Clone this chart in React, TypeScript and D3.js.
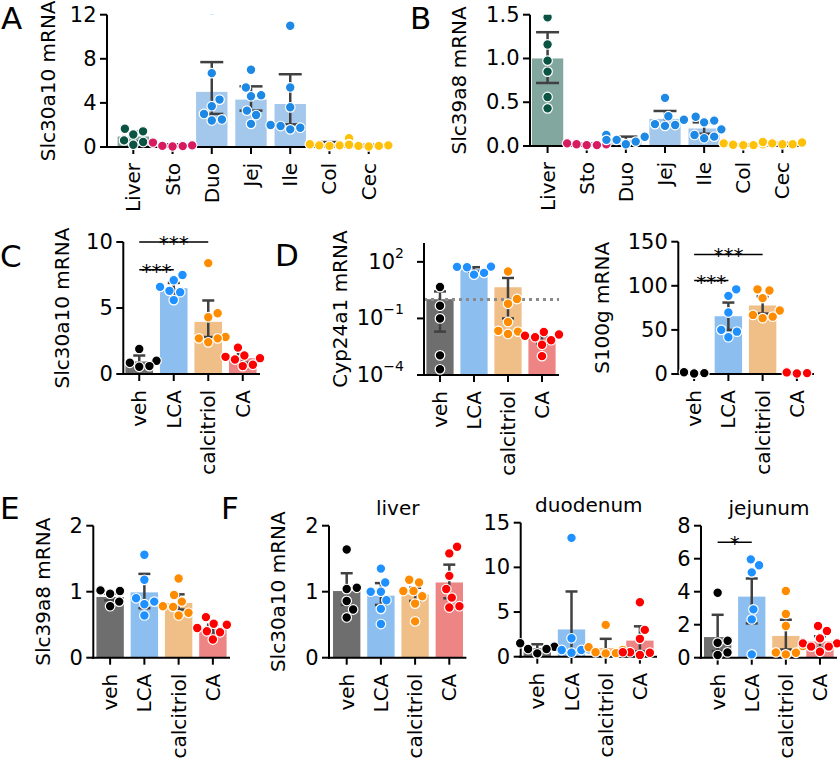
import React from "react";
import * as d3 from "d3";

// ---------- categories ----------
const tissues = ["Liver", "Sto", "Duo", "Jej", "Ile", "Col", "Cec"];
const treatments = ["veh", "LCA", "calcitriol", "CA"];

const tissueColors = ["#0b5444", "#d81b60", "#1e88e5", "#1e88e5", "#1e88e5", "#ffc107", "#ffc107"];
const tissueBarColors = ["#82a79e", "#eea3bd", "#a3c8ec", "#a3c8ec", "#a3c8ec", "#fde49a", "#fde49a"];
const treatColors = ["#000000", "#1e90ff", "#ff8c00", "#ff0000"];
const treatBarColors = ["#6e6e6e", "#8cbff0", "#f0bf88", "#ee8585"];

// ---------- A: Slc30a10 by tissue ----------
const aMeans = [0.95, 0.15, 5.0, 4.3, 3.9, 0.25, 0.12];
const aLo = [0.5, 0.05, 3.0, 3.3, 2.05, 0.12, 0.07];
const aHi = [1.4, 0.25, 7.7, 5.5, 6.6, 0.45, 0.2];
const aPts = [
  [1.66, 1.42, 1.14, 0.6, 0.45, 0.21],
  [0.4, 0.15, 0.1, 0.08, 0.05],
  [12.4, 6.7, 4.3, 3.7, 3.0, 2.5, 2.4],
  [7.0, 5.4, 4.7, 4.6, 3.3, 2.9, 2.1],
  [11.0, 5.4, 3.6, 2.0, 1.9, 1.75, 1.6],
  [0.8, 0.25, 0.25, 0.15, 0.15, 0.1],
  [0.2, 0.15, 0.1, 0.1, 0.05],
];
const aTicks = [0, 4, 8, 12];

// ---------- B: Slc39a8 by tissue ----------
const bMeans = [1.0, 0.02, 0.07, 0.31, 0.2, 0.015, 0.025];
const bLo = [0.72, 0.01, 0.04, 0.24, 0.14, 0.01, 0.02];
const bHi = [1.3, 0.03, 0.107, 0.4, 0.27, 0.02, 0.035];
const bPts = [
  [1.47, 1.16, 0.975, 0.85, 0.56, 0.43],
  [0.03, 0.02, 0.02, 0.01, 0.01],
  [0.125, 0.105, 0.07, 0.07, 0.05, 0.02],
  [0.55, 0.34, 0.3, 0.25, 0.24, 0.23],
  [0.335, 0.29, 0.27, 0.19, 0.126, 0.107, 0.088],
  [0.03, 0.02, 0.015, 0.01, 0.01],
  [0.045, 0.04, 0.03, 0.02, 0.02],
];
const bTicks = [0, 0.5, 1.0, 1.5];

// ---------- C: Slc30a10 treatments ----------
const cMeans = [0.95, 6.5, 3.95, 1.2];
const cLo = [0.65, 6.1, 2.8, 0.85];
const cHi = [1.4, 6.9, 5.57, 1.5];
const cPts = [
  [1.9, 1.0, 0.85, 0.6, 0.55],
  [7.5, 7.1, 6.6, 6.3, 6.2, 5.6],
  [8.4, 4.6, 4.3, 2.8, 2.7, 2.7, 2.4],
  [2.0, 1.4, 1.3, 1.2, 1.1, 0.7, 0.6],
];
const cTicks = [0, 5, 10];

// ---------- D: Cyp24a1 (log) ----------
const dMeans = [1.05, 42, 4.5, 0.0096];
const dLo = [0.02, 30, 0.1, 0.0045];
const dHi = [2.7, 52, 14, 0.0115];
const dPts = [
  [4.6, 0.47, 0.1, 0.0011, 0.0002],
  [56, 54, 52, 26, 21],
  [31, 1.07, 0.6, 0.065, 0.022, 0.02, 0.015],
  [0.019, 0.014, 0.012, 0.01, 0.007, 0.004, 0.001],
];
const dTicks = [1e-4, 1e-1, 1e2];
const dRef = 1;

// ---------- D: S100g ----------
const sMeans = [1.0, 65.5, 77.7, 1.0];
const sLo = [0.5, 50, 68.5, 0.6];
const sHi = [1.5, 81, 88, 1.4];
const sPts = [
  [1.0, 0.5, 2.0],
  [96, 88.6, 69.7, 50, 48, 41.7],
  [96, 94.6, 86, 72, 67, 65, 63.3],
  [1.0, 0.6, 1.8],
];
const sTicks = [0, 50, 100, 150];

// ---------- E: Slc39a8 treatments ----------
const eMeans = [0.92, 0.99, 0.83, 0.44];
const eLo = [0.87, 0.75, 0.73, 0.38];
const eHi = [0.97, 1.27, 0.96, 0.5];
const ePts = [
  [1.02, 1.01, 0.97, 0.85, 0.78],
  [1.56, 1.18, 0.9, 0.85, 0.81, 0.64],
  [1.2, 0.95, 0.85, 0.78, 0.77, 0.68, 0.64],
  [0.615, 0.515, 0.5, 0.45, 0.4, 0.385, 0.275],
];
const eTicks = [0, 1, 2];

// ---------- F: Slc30a10 liver / duodenum / jejunum ----------
const flMeans = [1.01, 0.94, 0.96, 1.14];
const flLo = [0.8, 0.8, 0.86, 0.9];
const flHi = [1.28, 1.13, 1.06, 1.41];
const flPts = [
  [1.64, 1.06, 1.04, 0.86, 0.73, 0.61],
  [1.35, 1.14, 1.0, 1.0, 0.87, 0.74, 0.51],
  [1.18, 1.14, 1.01, 1.01, 0.93, 0.82, 0.55],
  [1.68, 1.58, 1.24, 1.04, 0.91, 0.78, 0.76],
];
const flTicks = [0, 1, 2];

const fdMeans = [0.95, 3.05, 0.98, 1.8];
const fdLo = [0.5, 0.6, 0.4, 0.6];
const fdHi = [1.39, 7.3, 2.0, 3.4];
const fdPts = [
  [1.5, 1.12, 0.86, 0.86, 0.37],
  [13.3, 2.06, 0.82, 0.75, 0.75, 0.45],
  [3.56, 1.05, 0.75, 0.5, 0.4, 0.37],
  [6.1, 3.0, 2.0, 0.5, 0.5, 0.45, 0.2],
];
const fdTicks = [0, 5, 10, 15];

const fjMeans = [1.25, 3.7, 1.32, 0.98];
const fjLo = [0.4, 2.08, 0.5, 0.6];
const fjHi = [2.6, 4.8, 2.3, 1.3];
const fjPts = [
  [3.94, 1.03, 0.91, 0.32, 0.16],
  [5.96, 5.6, 5.17, 2.93, 2.32, 0.2],
  [4.04, 2.65, 1.92, 0.7, 0.32, 0.3, 0.2],
  [1.92, 1.62, 1.17, 0.87, 0.87, 0.67, 0.67, 0.36],
];
const fjTicks = [0, 2, 4, 6, 8];

// ---------- significance ----------
type Bracket = { a: number; b: number; h: number; label: string };
const cBrackets: Bracket[] = [
  { a: 0, b: 1, h: 7.9, label: "***" },
  { a: 0, b: 2, h: 10, label: "***" },
];
const sBrackets: Bracket[] = [
  { a: 0, b: 1, h: 106, label: "***" },
  { a: 0, b: 2, h: 135.5, label: "***" },
];
const fjBrackets: Bracket[] = [{ a: 0, b: 1, h: 7, label: "*" }];

const FONT = "DejaVu Sans, sans-serif";
const FS = 20;
const FS_Y = 21;

function swarm(ys: number[], d: number, limit: number): number[] {
  const idx = ys.map((_, i) => i).sort((a, b) => ys[b] - ys[a]);
  const placed: { x: number; y: number }[] = [];
  const out = new Array(ys.length).fill(0);
  for (const i of idx) {
    const y = ys[i];
    const cands = [0];
    for (const p of placed) {
      const dy = Math.abs(p.y - y);
      if (dy < d) {
        const dx = Math.sqrt(d * d - dy * dy);
        cands.push(p.x + dx, p.x - dx);
      }
    }
    cands.sort((a, b) => Math.abs(a) - Math.abs(b));
    let x = 0;
    for (const c of cands) {
      if (placed.every((p) => (p.x - c) ** 2 + (p.y - y) ** 2 >= d * d - 1e-3)) {
        x = c;
        break;
      }
    }
    placed.push({ x, y });
    out[i] = Math.max(-limit, Math.min(limit, x));
  }
  return out;
}

type PanelProps = {
  id: string;
  cats: string[];
  means: number[];
  lo: number[];
  hi: number[];
  pts: number[][];
  colors: string[];
  barColors: string[];
  axisX: number;
  band: [number, number];
  yTop: number;
  yBottom: number;
  domain: [number, number];
  log?: boolean;
  ticks: number[];
  fmt: (v: number) => React.ReactNode;
  tickGap?: number;
  ylabel?: string;
  ylabelX?: number;
  title?: string;
  brackets?: Bracket[];
  refLine?: number;
  capHalf: number;
};

function Panel(p: PanelProps) {
  const x = d3.scaleBand<string>().domain(p.cats).range(p.band).padding(0);
  const step = x.step();
  const y = p.log
    ? d3.scaleLog().domain(p.domain).range([p.yBottom, p.yTop])
    : d3.scaleLinear().domain(p.domain).range([p.yBottom, p.yTop]);
  const cx = (c: string) => (x(c) as number) + step / 2;
  const left = Math.min(p.axisX, p.band[0]);
  const tickGap = p.tickGap ?? 10.5;
  const r = 4.8;
  return (
    <g fontFamily={FONT}>
      <defs>
        <clipPath id={`clip-${p.id}`}>
          <rect x={left - 60} y={p.yTop} width={p.band[1] - left + 120} height={p.yBottom - p.yTop + 20} />
        </clipPath>
      </defs>
      {p.cats.map((c, i) => {
        const yv = y(p.means[i]);
        return (
          <rect
            key={`b${i}`}
            x={cx(c) - step * 0.4}
            width={step * 0.8}
            y={yv}
            height={p.yBottom - yv}
            fill={p.barColors[i]}
          />
        );
      })}
      {p.refLine !== undefined && (
        <line
          x1={p.axisX}
          x2={p.band[1]}
          y1={y(p.refLine)}
          y2={y(p.refLine)}
          stroke="#8a8a8a"
          strokeWidth={3}
          strokeDasharray="3 4"
        />
      )}
      {p.cats.map((c, i) => {
        const y1 = y(p.lo[i]);
        const y2 = y(p.hi[i]);
        const xc = cx(c);
        return (
          <g key={`e${i}`} stroke="#404040" strokeWidth={2.5}>
            <line x1={xc} x2={xc} y1={y1} y2={y2} />
            <line x1={xc - p.capHalf} x2={xc + p.capHalf} y1={y1} y2={y1} />
            <line x1={xc - p.capHalf} x2={xc + p.capHalf} y1={y2} y2={y2} />
          </g>
        );
      })}
      <g stroke="#000" strokeWidth={2}>
        <line x1={p.axisX} x2={p.axisX} y1={p.yTop} y2={p.yBottom + 1} />
        <line x1={left - 1} x2={p.band[1]} y1={p.yBottom} y2={p.yBottom} />
        {p.ticks.map((t, i) => (
          <line key={`yt${i}`} x1={p.axisX - 7} x2={p.axisX} y1={y(t)} y2={y(t)} />
        ))}
        {p.cats.map((c, i) => (
          <line key={`xt${i}`} x1={cx(c)} x2={cx(c)} y1={p.yBottom} y2={p.yBottom + 7} />
        ))}
      </g>
      {p.ticks.map((t, i) => (
        <text
          key={`ytl${i}`}
          x={p.axisX - tickGap}
          y={y(t)}
          textAnchor="end"
          dominantBaseline="central"
          fontSize={FS_Y}
          fill="#000"
        >
          {p.fmt(t)}
        </text>
      ))}
      {p.cats.map((c, i) => (
        <text
          key={`xtl${i}`}
          transform={`translate(${cx(c)},${p.yBottom + 16}) rotate(-90)`}
          textAnchor="end"
          dominantBaseline="central"
          fontSize={FS}
          fill="#000"
        >
          {c}
        </text>
      ))}
      {p.ylabel && (
        <text
          transform={`translate(${p.ylabelX},${(p.yTop + p.yBottom) / 2}) rotate(-90)`}
          textAnchor="middle"
          dominantBaseline="central"
          fontSize={FS}
          fill="#000"
        >
          {p.ylabel}
        </text>
      )}
      {p.title && (
        <text x={(p.axisX + p.band[1]) / 2} y={p.yTop - 11} textAnchor="middle" fontSize={FS} fill="#000">
          {p.title}
        </text>
      )}
      <g clipPath={`url(#clip-${p.id})`}>
        {p.cats.map((c, i) => {
          const ys = p.pts[i].map((v) => y(v));
          const offs = swarm(ys, 2 * r + 0.6, step * 0.5);
          return ys.map((yy, j) => (
            <circle
              key={`p${i}-${j}`}
              cx={cx(c) + offs[j]}
              cy={yy}
              r={r}
              fill={p.colors[i]}
              stroke="#fff"
              strokeWidth={1.2}
            />
          ));
        })}
      </g>
      {(p.brackets || []).map((b, i) => {
        const x1 = cx(p.cats[b.a]);
        const x2 = cx(p.cats[b.b]);
        const yy = y(b.h);
        return (
          <g key={`br${i}`}>
            <line x1={x1} x2={x2} y1={yy} y2={yy} stroke="#000" strokeWidth={1.5} />
            <text x={(x1 + x2) / 2} y={yy + 8} textAnchor="middle" fontSize={FS} fill="#000">
              {b.label}
            </text>
          </g>
        );
      })}
    </g>
  );
}

const fmtInt = d3.format("d");
const fmt1 = d3.format(".1f");
const fmtLog = (v: number) => {
  const e = Math.round(Math.log10(v));
  return (
    <>
      10
      <tspan dy={-9} fontSize={14}>
        {e < 0 ? `\u2212${-e}` : `${e}`}
      </tspan>
    </>
  );
};

export default function App() {
  const letter = (t: string, x: number, y: number) => (
    <text x={x} y={y} fontSize={31} fontFamily={FONT} fill="#000">
      {t}
    </text>
  );
  return (
    <svg
      width={840}
      height={761}
      style={{ position: "absolute", left: 0, top: 0, display: "block", background: "#fff" }}
    >
      <rect width={840} height={761} fill="#fff" />
      <Panel
        id="A"
        cats={tissues}
        means={aMeans}
        lo={aLo}
        hi={aHi}
        pts={aPts}
        colors={tissueColors}
        barColors={tissueBarColors}
        axisX={107}
        band={[113.7, 388.3]}
        yTop={14.7}
        yBottom={147}
        domain={[0, 12]}
        ticks={aTicks}
        fmt={fmtInt}
        ylabel="Slc30a10 mRNA"
        ylabelX={48}
        capHalf={11.5}
      />
      <Panel
        id="B"
        cats={tissues}
        means={bMeans}
        lo={bLo}
        hi={bHi}
        pts={bPts}
        colors={tissueColors}
        barColors={tissueBarColors}
        axisX={530}
        band={[528, 802]}
        yTop={14.7}
        yBottom={146}
        domain={[0, 1.5]}
        ticks={bTicks}
        fmt={fmt1}
        ylabel="Slc39a8 mRNA"
        ylabelX={459}
        capHalf={11.5}
      />
      <Panel
        id="C"
        cats={treatments}
        means={cMeans}
        lo={cLo}
        hi={cHi}
        pts={cPts}
        colors={treatColors}
        barColors={treatBarColors}
        axisX={123.3}
        band={[122, 260]}
        yTop={242}
        yBottom={374}
        domain={[0, 10]}
        ticks={cTicks}
        fmt={fmtInt}
        ylabel="Slc30a10 mRNA"
        ylabelX={62}
        brackets={cBrackets}
        capHalf={6}
      />
      <Panel
        id="D1"
        cats={treatments}
        means={dMeans}
        lo={dLo}
        hi={dHi}
        pts={dPts}
        colors={treatColors}
        barColors={treatBarColors}
        axisX={424}
        band={[423, 559]}
        yTop={243}
        yBottom={375}
        domain={[1e-4, 1e3]}
        log
        ticks={dTicks}
        fmt={fmtLog}
        tickGap={20}
        ylabel="Cyp24a1 mRNA"
        ylabelX={340}
        refLine={dRef}
        capHalf={6}
      />
      <Panel
        id="D2"
        cats={treatments}
        means={sMeans}
        lo={sLo}
        hi={sHi}
        pts={sPts}
        colors={treatColors}
        barColors={treatBarColors}
        axisX={678.3}
        band={[677, 814]}
        yTop={241.7}
        yBottom={374}
        domain={[0, 150]}
        ticks={sTicks}
        fmt={fmtInt}
        ylabel="S100g mRNA"
        ylabelX={602}
        brackets={sBrackets}
        capHalf={6}
      />
      <Panel
        id="E"
        cats={treatments}
        means={eMeans}
        lo={eLo}
        hi={eHi}
        pts={ePts}
        colors={treatColors}
        barColors={treatBarColors}
        axisX={93.3}
        band={[93, 230]}
        yTop={525.7}
        yBottom={657.7}
        domain={[0, 2]}
        ticks={eTicks}
        fmt={fmtInt}
        ylabel="Slc39a8 mRNA"
        ylabelX={43}
        capHalf={6}
      />
      <Panel
        id="FL"
        cats={treatments}
        means={flMeans}
        lo={flLo}
        hi={flHi}
        pts={flPts}
        colors={treatColors}
        barColors={treatBarColors}
        axisX={329}
        band={[329.6, 466.4]}
        yTop={525.7}
        yBottom={657.7}
        domain={[0, 2]}
        ticks={flTicks}
        fmt={fmtInt}
        ylabel="Slc30a10 mRNA"
        ylabelX={278}
        title="liver"
        capHalf={6}
      />
      <Panel
        id="FD"
        cats={treatments}
        means={fdMeans}
        lo={fdLo}
        hi={fdHi}
        pts={fdPts}
        colors={treatColors}
        barColors={treatBarColors}
        axisX={520.7}
        band={[520.2, 657]}
        yTop={522.7}
        yBottom={656.7}
        domain={[0, 15]}
        ticks={fdTicks}
        fmt={fmtInt}
        title="duodenum"
        capHalf={6}
      />
      <Panel
        id="FJ"
        cats={treatments}
        means={fjMeans}
        lo={fjLo}
        hi={fjHi}
        pts={fjPts}
        colors={treatColors}
        barColors={treatBarColors}
        axisX={701}
        band={[700.6, 837]}
        yTop={525.7}
        yBottom={657.7}
        domain={[0, 8]}
        ticks={fjTicks}
        fmt={fmtInt}
        title="jejunum"
        brackets={fjBrackets}
        capHalf={6}
      />
      {letter("A", 1, 29)}
      {letter("B", 410, 29)}
      {letter("C", 0, 267)}
      {letter("D", 275, 266)}
      {letter("E", 0, 519)}
      {letter("F", 221, 519)}
    </svg>
  );
}
